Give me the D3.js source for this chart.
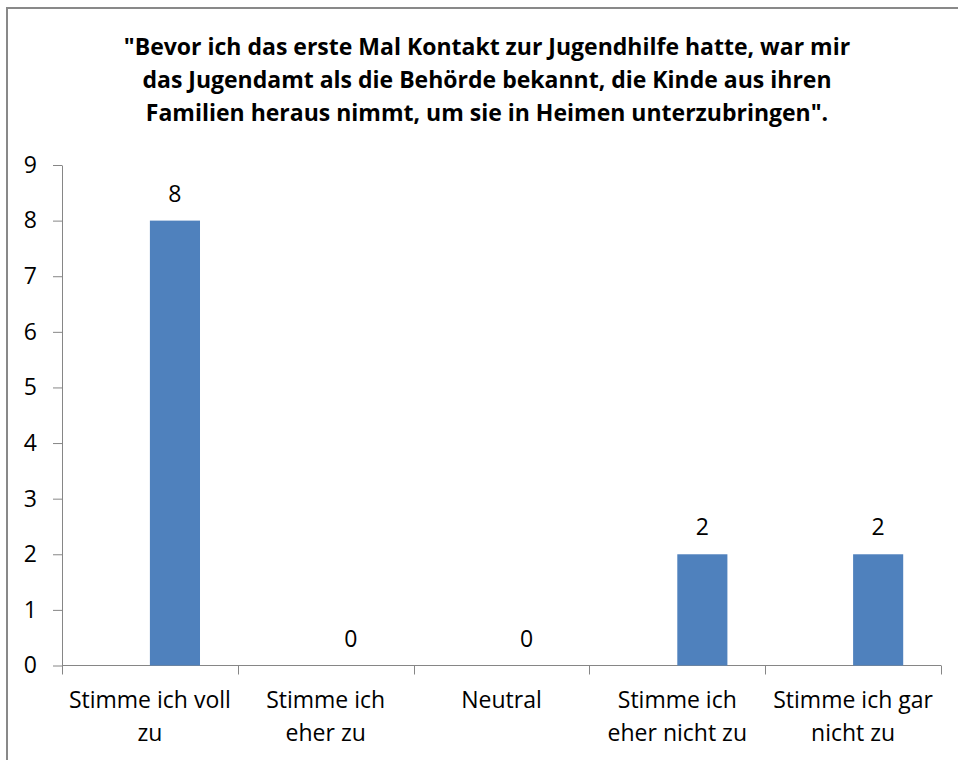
<!DOCTYPE html>
<html>
<head>
<meta charset="utf-8">
<script src="https://cdn.jsdelivr.net/npm/d3@7"></script>
<style>
  body { margin: 0; background: #fff; }
  svg { display: block; }
  text { font-family: "Open Sans", sans-serif; fill: #000; }
</style>
</head>
<body>
<div id="chart"></div>
<script>
document.addEventListener('DOMContentLoaded', function () {

  const width = 958, height = 760;

  const titleLines = [
    '"Bevor ich das erste Mal Kontakt zur Jugendhilfe hatte, war mir',
    'das Jugendamt als die Behörde bekannt, die Kinde aus ihren',
    'Familien heraus nimmt, um sie in Heimen unterzubringen".'
  ];
  const categories = [
    'Stimme ich voll zu',
    'Stimme ich eher zu',
    'Neutral',
    'Stimme ich eher nicht zu',
    'Stimme ich gar nicht zu'
  ];
  // how each category label breaks into lines
  const categoryLines = [
    ['Stimme ich voll', 'zu'],
    ['Stimme ich', 'eher zu'],
    ['Neutral'],
    ['Stimme ich', 'eher nicht zu'],
    ['Stimme ich gar', 'nicht zu']
  ];
  const values = [8, 0, 0, 2, 2];
  const yTicks = [0, 1, 2, 3, 4, 5, 6, 7, 8, 9];

  const data = categories.map((c, i) => ({ cat: c, value: values[i], lines: categoryLines[i] }));

  const axisColor = '#868686';
  const barColor = '#4F81BD';

  const svg = d3.select('#chart')
    .append('svg')
    .attr('width', width)
    .attr('height', height);

  // outer chart frame
  svg.append('rect')
    .attr('x', 7)
    .attr('y', 8)
    .attr('width', width + 10)
    .attr('height', height + 10)
    .attr('fill', 'none')
    .attr('stroke', '#898989')
    .attr('stroke-width', 2);

  // title
  svg.append('text')
    .attr('text-anchor', 'middle')
    .style('font-weight', 'bold')
    .style('font-size', '23px')
    .selectAll('tspan')
    .data(titleLines)
    .enter()
    .append('tspan')
    .attr('x', 487)
    .attr('y', (d, i) => 55 + i * 33)
    .text(d => d);

  const x = d3.scaleBand()
    .domain(categories)
    .range([62, 941])
    .padding(0);

  const y = d3.scaleLinear()
    .domain([0, 9])
    .range([665.5, 165]);

  // y axis
  const yAxis = svg.append('g')
    .attr('transform', 'translate(62,0)')
    .call(d3.axisLeft(y)
      .tickValues(yTicks)
      .tickSize(9)
      .tickSizeOuter(0)
      .tickPadding(16)
      .tickFormat(d3.format('d')));
  yAxis.selectAll('path, line').attr('stroke', axisColor);
  yAxis.selectAll('text')
    .style('font-size', '23px')
    .style('font-family', '"Open Sans", sans-serif')
    .attr('fill', '#000');

  // x axis: baseline + separator ticks at category boundaries
  const xAxis = svg.append('g');
  xAxis.append('line')
    .attr('x1', x.range()[0])
    .attr('x2', x.range()[1])
    .attr('y1', y(0))
    .attr('y2', y(0))
    .attr('stroke', axisColor);

  const bounds = categories.map(c => x(c)).concat([x.range()[1]]);
  xAxis.selectAll('line.sep')
    .data(bounds)
    .enter()
    .append('line')
    .attr('class', 'sep')
    .attr('x1', d => Math.round(d) + 0.5)
    .attr('x2', d => Math.round(d) + 0.5)
    .attr('y1', y(0))
    .attr('y2', y(0) + 9)
    .attr('stroke', axisColor);

  const xLabels = xAxis.selectAll('text.cat')
    .data(data)
    .enter()
    .append('text')
    .attr('class', 'cat')
    .attr('text-anchor', 'middle')
    .style('font-size', '23px');

  xLabels.selectAll('tspan')
    .data(d => d.lines.map(l => ({ line: l, cx: x(d.cat) + x.bandwidth() / 2 })))
    .enter()
    .append('tspan')
    .attr('x', d => d.cx)
    .attr('y', (d, i) => 708 + i * 33)
    .text(d => d.line);

  // bars sit in the right half-slot of each category (Excel 2-series gap layout)
  const barW = x.bandwidth() * 0.285;
  const barX = d => x(d.cat) + x.bandwidth() / 2;
  svg.selectAll('rect.bar')
    .data(data)
    .enter()
    .append('rect')
    .attr('class', 'bar')
    .attr('x', barX)
    .attr('y', d => y(d.value))
    .attr('width', barW)
    .attr('height', d => y(0) - y(d.value))
    .attr('fill', barColor);

  // value labels
  svg.selectAll('text.val')
    .data(data)
    .enter()
    .append('text')
    .attr('class', 'val')
    .attr('text-anchor', 'middle')
    .attr('x', d => barX(d) + barW / 2)
    .attr('y', d => y(d.value) - 19)
    .style('font-size', '23px')
    .text(d => d.value);
});
</script>
</body>
</html>
